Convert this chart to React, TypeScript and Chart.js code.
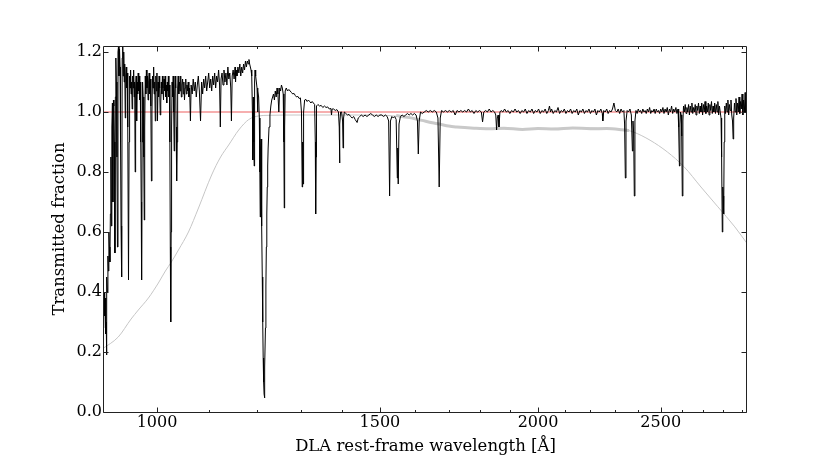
import React, { useEffect, useRef } from "react";
import { Chart, registerables } from "chart.js";

Chart.register(...registerables);

type Pt = [number, number];

// ---- axis data ----
const xRange: Pt = [908, 2925];
const yRange: Pt = [0, 1.22];
const xMajorTicks = [1000, 1500, 2000, 2500];
const xMinorTicks = [1100, 1200, 1300, 1400, 1600, 1700, 1800, 1900, 2100, 2200, 2300, 2400, 2600, 2700, 2800, 2900];
const yTicks = [0, 0.2, 0.4, 0.6, 0.8, 1.0, 1.2];
const xTitle = "DLA rest-frame wavelength [Å]";
const yTitle = "Transmitted fraction";

// ---- spectrum (wavelength, transmitted fraction) ----
const specForest: Pt[] = [
  [905.0,0.75],[905.5,0.55],[906.0,0.30],[906.7,0.42],[907.5,0.28],[908.3,0.40],[909.1,0.32],[910.0,0.38],[910.8,0.26],[911.6,0.30],
  [912.1,0.19],[912.8,0.45],[913.6,0.40],[914.5,0.52],[915.3,0.47],[916.1,0.60],[917.0,0.55],[917.8,0.50],[918.6,0.66],[919.5,0.85],
  [920.3,0.62],[921.1,0.95],[922.0,1.03],[922.8,0.70],[923.7,1.04],[924.5,1.02],[925.3,0.90],[926.2,0.53],[927.0,1.05],[927.8,1.18],
  [928.7,1.10],[929.6,0.85],[930.5,0.55],[931.4,1.20],[932.3,1.22],[933.1,1.12],[934.0,1.21],[934.9,1.15],[935.7,0.90],[936.6,0.62],
  [937.6,0.45],[938.6,1.18],[939.5,1.22],[940.3,1.12],[941.2,1.20],[942.0,1.10],[942.9,1.16],[943.8,0.98],[944.6,1.12],[945.5,1.15],
  [946.3,1.08],[947.2,1.13],[948.1,0.95],[949.4,0.44],[950.4,0.90],[951.3,1.12],[952.2,1.08],[953.0,1.14],[953.9,1.06],[954.8,1.10],
  [955.7,1.01],[956.6,1.12],[957.4,1.08],[958.3,1.14],[959.2,1.05],[960.1,1.10],[961.0,0.80],[961.8,1.08],[962.7,1.12],[963.6,0.97],
  [964.5,1.10],[965.4,1.06],[966.3,1.13],[967.2,1.07],[968.1,1.12],[969.0,1.04],[969.9,1.10],[970.8,0.90],[971.6,0.70],[972.3,0.44],
  [973.2,0.90],[974.0,1.10],[975.0,1.05],[976.2,0.85],[977.0,0.64],[977.8,0.95],[978.8,1.12],[979.8,1.06],[980.8,1.14],[981.8,1.08],
  [982.8,1.12],[983.8,1.04],[984.8,1.10],[985.8,1.13],[986.8,1.06],[987.8,1.11],[988.8,1.02],[989.8,0.77],[990.8,1.00],[991.8,1.12],
  [992.8,1.08],[993.8,1.15],[994.8,1.06],[995.8,1.10],[996.8,0.97],[997.8,1.12],[998.8,1.07],[999.8,1.13],[1000.8,0.97],[1001.8,1.10],
  [1002.8,1.05],[1003.8,1.12],[1004.8,1.08],[1005.8,0.99],[1006.8,1.03],[1007.8,1.10],[1008.8,1.06],[1009.8,1.12],[1010.8,1.08],[1011.8,1.04],
  [1012.8,1.11],[1013.8,1.07],[1014.8,1.12],[1015.8,1.05],[1016.8,1.09],[1017.8,1.03],[1018.8,1.10],[1019.8,1.07],[1020.8,1.12],[1021.8,1.05],
  [1022.8,1.09],[1023.6,0.90],[1024.4,0.55],[1025.2,0.30],[1026.0,0.60],[1026.8,0.95],[1027.8,1.10],[1028.8,1.05],[1029.8,1.12],[1030.8,1.00],
  [1031.7,0.87],[1032.6,1.06],[1033.6,1.12],[1034.6,1.08],[1035.4,0.95],[1036.3,0.77],[1037.2,0.90],[1038.2,1.08],[1039.2,1.12],[1040.4,1.06],
  [1041.6,1.10],[1042.8,1.07],[1044.0,1.12],[1045.2,1.05],[1046.4,1.09],[1047.6,1.11],[1048.8,1.06],[1050.0,1.10],[1051.2,1.04],[1052.4,1.08],
  [1053.6,1.11],[1054.8,1.06],[1056.0,1.09],[1057.2,1.07],[1058.4,1.10],[1059.6,1.05],
];

const specLya: Pt[] = [
  [1061.0,1.08],[1062.6,0.97],[1064.0,1.09],[1066.0,1.06],[1068.0,1.11],[1070.0,1.07],[1072.0,1.10],[1074.0,1.05],[1076.0,1.09],[1078.0,1.12],
  [1080.0,1.07],[1082.3,0.97],[1084.5,1.10],[1086.5,1.06],[1088.5,1.11],[1090.5,1.08],[1092.5,1.12],[1094.5,1.07],[1096.5,1.10],[1098.5,1.13],
  [1100.5,1.08],[1102.5,1.11],[1104.5,1.07],[1106.5,1.12],[1108.5,1.09],[1110.5,1.13],[1112.5,1.08],[1114.5,1.12],[1116.5,1.10],[1118.5,1.14],
  [1120.5,1.09],[1122.0,0.95],[1123.5,1.11],[1125.5,1.13],[1127.5,1.09],[1129.5,1.14],[1131.5,1.10],[1133.5,1.13],[1135.5,1.09],[1137.5,1.15],
  [1139.5,1.11],[1141.5,1.13],[1143.5,1.08],[1144.9,0.97],[1146.5,1.12],[1148.5,1.14],[1150.5,1.11],[1152.5,1.15],[1153.5,1.10],[1154.5,1.14],
  [1156.5,1.12],[1158.5,1.15],[1160.5,1.13],[1162.5,1.16],[1164.5,1.12],[1166.5,1.15],[1168.5,1.13],[1170.5,1.16],[1172.5,1.14],[1174.5,1.17],
  [1176.5,1.15],[1178.5,1.17],[1180.5,1.16],[1182.0,1.175],[1183.5,1.16],[1185.0,1.15],[1186.5,1.14],[1188.0,1.12],[1189.5,1.00],[1190.4,0.84],
  [1191.3,1.05],[1192.3,0.90],[1193.3,0.82],[1194.2,1.10],[1195.2,1.14],[1196.5,1.12],[1198.0,1.10],[1199.5,1.08],[1200.5,1.00],[1201.5,1.07],
  [1203.0,1.05],[1204.5,0.98],[1205.7,0.80],[1206.5,0.65],[1207.3,0.88],[1208.3,0.91],[1209.2,0.78],[1210.1,0.62],[1211.0,0.45],[1212.0,0.30],
  [1213.0,0.18],[1214.0,0.10],[1215.0,0.06],[1215.6,0.047],[1216.2,0.08],[1217.0,0.15],[1218.0,0.28],[1219.0,0.42],[1220.0,0.55],[1221.0,0.66],
  [1222.0,0.75],[1223.0,0.82],[1224.0,0.88],[1226.0,0.95],[1228.0,0.99],[1230.0,1.02],[1232.0,1.04],[1234.0,1.05],
];

const specRed1: Pt[] = [
  [1236,1.06],[1238,1.04],[1240,1.07],[1242,1.05],[1244,1.08],[1246,1.06],[1248,1.00],[1250,1.08],[1252,1.07],[1254,1.09],
  [1256,1.08],[1258,1.06],[1259.5,0.90],[1260.4,0.68],[1261.3,0.95],[1262.5,1.07],[1265,1.08],[1268,1.07],[1271,1.075],[1274,1.07],
  [1277,1.065],[1280,1.06],[1283,1.062],[1286,1.055],[1289,1.05],[1292,1.052],[1295,1.045],[1298,1.047],[1300.5,1.00],[1302.2,0.75],
  [1303.2,0.90],[1304.4,0.76],[1305.5,1.00],[1308,1.04],[1311,1.042],[1314,1.035],[1317,1.04],[1320,1.035],[1323,1.03],[1326,1.035],
  [1329,1.03],[1332,1.025],[1333.6,0.90],[1334.5,0.66],[1335.5,0.85],[1336.5,1.02],[1340,1.025],[1344,1.02],[1348,1.022],[1352,1.015],
  [1356,1.02],[1360,1.015],[1364,1.017],[1368,1.01],[1372,1.012],[1373.5,0.99],[1375,1.01],[1379,1.01],[1383,1.005],[1387,1.008],
  [1391,1.00],[1393,0.95],[1393.8,0.83],[1394.7,0.96],[1396.5,1.00],[1399,1.00],[1401.5,0.97],[1402.8,0.88],[1404,0.98],[1406,1.00],
  [1410,0.995],[1414,0.99],[1418,0.992],[1422,0.985],[1426,0.98],[1430,0.985],[1434,0.975],[1439,0.965],[1442,0.98],[1446,0.985],
  [1450,0.99],[1455,0.985],[1460,0.99],[1465,0.985],[1470,0.99],[1475,0.995],[1480,0.99],[1485,0.985],[1490,0.99],[1495,0.985],[1500,0.99],
];

const specRed2: Pt[] = [
  [1505,0.99],[1510,0.985],[1515,0.99],[1520,0.985],[1524,0.97],[1526.7,0.72],[1529,0.97],[1533,0.985],[1537,0.98],[1541,0.985],
  [1545,0.975],[1548.2,0.78],[1549.5,0.88],[1550.8,0.76],[1553,0.96],[1557,0.985],[1562,0.99],[1567,0.985],[1572,0.99],[1577,0.995],
  [1582,0.99],[1587,0.995],[1592,0.99],[1597,0.995],[1602,0.99],[1606,0.97],[1608.5,0.86],[1611,0.97],[1615,1.0],[1620,0.995],
  [1626,1.0],[1632,1.005],[1638,1.0],[1644,1.005],[1650,1.0],[1656,1.005],[1662,1.0],[1667,0.98],[1670.8,0.75],[1674,0.98],
  [1678,1.005],[1684,1.0],[1690,1.005],[1696,1.0],[1702,1.005],[1708,1.0],[1714,1.005],[1720,0.99],[1726,1.005],[1732,1.0],
  [1738,1.005],[1744,1.0],[1750,1.005],[1756,1.0],[1762,1.01],[1768,1.0],[1774,1.005],[1780,0.995],[1786,1.005],[1792,1.0],
  [1798,1.005],[1804,1.0],[1808,0.967],[1812,1.0],[1818,1.005],[1824,1.0],[1830,1.01],[1836,1.0],[1842,1.005],[1848,1.0],
  [1852,0.99],[1854.7,0.94],[1857,0.98],[1860,0.99],[1862.8,0.95],[1866,1.0],[1870,1.005],[1876,1.0],[1882,1.01],[1888,1.0],
  [1894,1.005],[1900,0.995],[1906,1.005],[1912,1.0],[1918,1.01],[1924,1.0],[1930,1.005],[1936,0.995],[1942,1.005],[1948,1.0],
  [1954,1.01],[1960,0.995],[1966,1.005],[1972,1.0],[1978,1.01],[1984,0.995],[1990,1.005],[1996,1.0],[2002,1.01],[2008,0.995],
  [2014,1.005],[2020,1.0],[2026,1.01],[2032,0.995],[2038,1.005],[2042,1.02],[2046,1.0],[2050,1.01],[2056,0.995],[2062,1.005],
  [2068,1.0],[2074,1.015],[2080,0.995],[2086,1.005],[2092,1.0],[2098,1.01],[2104,0.995],[2110,1.005],[2116,1.0],[2122,1.01],
  [2128,0.995],[2134,1.005],[2140,1.0],[2146,1.01],[2152,0.99],[2158,1.005],[2164,1.0],[2170,1.01],[2176,0.995],[2182,1.005],
  [2188,1.0],[2194,1.01],[2200,0.995],[2206,1.005],[2212,1.0],[2218,1.01],[2224,0.99],[2230,1.005],[2236,1.0],[2242,1.01],
  [2248,0.995],[2250,0.97],[2254,1.005],[2260,1.0],[2266,1.01],[2272,0.995],[2278,1.005],[2284,1.0],[2290,1.01],[2296,1.03],
];

const specRed3: Pt[] = [
  [2302,1.005],[2308,1.0],[2314,1.01],[2320,0.995],[2326,1.01],[2332,1.0],[2338,1.005],[2341,0.96],[2344.2,0.78],[2347,0.97],
  [2352,1.005],[2358,1.0],[2364,1.01],[2370,0.99],[2374.5,0.87],[2377,0.97],[2380,0.93],[2382.8,0.72],[2385.5,0.97],[2390,1.005],
  [2395,0.995],[2400,1.01],[2405,1.0],[2410,1.005],[2415,0.995],[2420,1.01],[2425,1.0],[2430,1.005],[2435,0.995],[2440,1.01],
  [2445,1.0],[2450,1.015],[2455,0.995],[2460,1.005],[2465,1.0],[2470,1.01],[2475,0.995],[2480,1.01],[2485,1.0],[2490,1.005],
  [2495,0.995],[2500,1.01],[2505,1.0],[2510,1.015],[2515,0.995],[2520,1.01],[2525,1.0],[2530,1.015],[2535,0.99],[2540,1.01],
  [2545,1.0],[2550,1.02],[2555,0.995],[2560,1.01],[2565,1.0],[2570,1.015],[2575,0.995],[2580,1.01],[2583,0.95],[2586.6,0.82],
  [2589,0.96],[2592,1.0],[2595,0.99],[2597.5,0.92],[2600.2,0.72],[2603,0.97],[2606,1.02],[2610,1.0],[2614,1.025],[2618,0.995],
  [2622,1.015],[2626,1.0],[2630,1.025],[2634,0.99],[2638,1.02],[2642,1.0],[2646,1.03],[2650,0.995],[2654,1.015],[2658,1.0],
  [2662,1.025],[2666,0.99],[2670,1.02],[2674,1.005],[2678,1.03],[2682,0.995],[2686,1.02],[2690,1.0],[2694,1.03],[2698,0.99],
  [2702,1.025],[2706,1.0],[2710,1.035],[2714,0.995],[2718,1.02],[2722,1.0],[2726,1.03],[2730,0.99],[2734,1.025],[2738,1.005],
  [2742,1.035],[2746,0.995],[2750,1.02],[2754,1.0],[2758,1.03],[2762,0.995],[2766,1.025],[2770,1.0],[2774,1.035],[2778,0.99],
  [2782,1.02],[2786,1.0],[2790,0.98],[2793,0.85],[2796.4,0.60],[2799,0.75],[2801,0.72],[2803.5,0.66],[2806,0.90],[2809,1.02],
  [2813,0.995],[2817,1.03],[2821,1.0],[2825,1.04],[2829,0.99],[2833,1.025],[2837,1.005],[2841,1.04],[2845,0.99],[2849,0.97],
  [2852.1,0.91],[2855,0.98],[2859,1.03],[2863,1.0],[2867,1.045],[2871,0.99],[2875,1.03],[2879,1.0],[2883,1.05],[2887,0.995],
  [2891,1.035],[2895,1.01],[2899,1.06],[2903,0.99],[2907,1.04],[2911,1.0],[2915,1.065],[2919,1.0],[2923,1.05],
];

// ---- smooth grey curve and thick grey band ----
const greyCurve: Pt[] = [
  [905,0.21],[931.8,0.25],[953.9,0.31],[966.5,0.34],[984.4,0.38],[1002.4,0.43],[1015.3,0.47],[1026.4,0.50],[1039.7,0.54],[1058.8,0.60],
  [1078.3,0.68],[1104.4,0.79],[1122.6,0.85],[1139.2,0.89],[1160.2,0.94],[1181.6,0.975],[1203.5,0.987],[1225.7,0.989],[1300,0.99],[1400,0.99],
  [1480,0.99],[1554,0.985],[1619,0.972],[1671,0.96],[1725,0.95],[1829,0.945],[1944,0.943],[2130,0.947],[2266,0.945],[2352,0.939],
  [2380,0.933],[2452,0.906],[2530,0.867],[2609,0.817],[2690,0.75],[2774,0.684],[2861,0.617],[2925,0.562],
];
const greyBand: Pt[] = [
  [1545,0.988],[1580,0.982],[1619,0.972],[1650,0.964],[1671,0.96],[1700,0.953],[1725,0.95],[1780,0.946],[1829,0.944],[1880,0.946],
  [1944,0.942],[2000,0.945],[2060,0.943],[2130,0.947],[2200,0.944],[2266,0.945],[2330,0.941],[2360,0.938],
];
const unityLine: Pt[] = [[908, 1], [2925, 1]];

const toXY = (arr: Pt[]) => arr.map(([x, y]) => ({ x, y }));

const FONT = "'DejaVu Serif', 'Liberation Serif', serif";
const FRAME = "#222";

const frameTicks = {
  id: "frameTicks",
  afterDatasetsDraw(chart: any) {
    const { ctx, chartArea: a, scales } = chart;
    const xs = scales.x;
    const ys = scales.y;
    const L = Math.round(a.left) - 0.5;
    const R = Math.round(a.right) - 0.5;
    const T = Math.round(a.top) + 0.5;
    const B = Math.round(a.bottom) + 0.5;
    ctx.save();
    ctx.strokeStyle = FRAME;
    ctx.lineWidth = 1;
    ctx.beginPath();
    ctx.rect(L, T, R - L, B - T);
    const xTick = (v: number, len: number) => {
      const p = Math.round(xs.getPixelForValue(v)) + 0.5;
      ctx.moveTo(p, B);
      ctx.lineTo(p, B - len);
      ctx.moveTo(p, T);
      ctx.lineTo(p, T + len);
    };
    xMajorTicks.forEach((v) => xTick(v, 5));
    xMinorTicks.forEach((v) => xTick(v, 2.5));
    yTicks.forEach((v) => {
      const p = Math.round(ys.getPixelForValue(v)) + 0.5;
      ctx.moveTo(L, p);
      ctx.lineTo(L + 5, p);
      ctx.moveTo(R, p);
      ctx.lineTo(R - 5, p);
    });
    ctx.stroke();
    ctx.restore();
  },
};

export default function App() {
  const ref = useRef<HTMLCanvasElement | null>(null);
  useEffect(() => {
    if (!ref.current) return;
    Chart.defaults.font.family = FONT;
    Chart.defaults.color = "#000";
    const chart = new Chart(ref.current, {
      type: "line",
      data: {
        datasets: [
          { label: "spectrum", data: toXY([...specForest, ...specLya, ...specRed1, ...specRed2, ...specRed3]), borderColor: "#000", borderWidth: 1, pointRadius: 0, tension: 0 },
          { label: "unity", data: toXY(unityLine), borderColor: "#f39595", borderWidth: 1.5, pointRadius: 0 },
          { label: "band", data: toXY(greyBand), borderColor: "#c9c9c9", borderWidth: 3, pointRadius: 0, cubicInterpolationMode: "monotone" },
          { label: "model", data: toXY(greyCurve), borderColor: "#c6c6c6", borderWidth: 1, pointRadius: 0, cubicInterpolationMode: "monotone" },
        ] as any,
      },
      options: {
        animation: false,
        responsive: false,
        events: [],
        layout: { padding: { left: 0, right: 83, top: 46, bottom: 0 } },
        plugins: { legend: { display: false }, tooltip: { enabled: false } },
        scales: {
          x: {
            type: "logarithmic",
            min: xRange[0],
            max: xRange[1],
            grid: { display: false, drawTicks: false },
            border: { display: false },
            afterBuildTicks: (s: any) => {
              s.ticks = [...xMajorTicks, ...xMinorTicks].sort((a, b) => a - b).map((v) => ({ value: v }));
            },
            afterFit: (s: any) => { s.height = 47; },
            ticks: {
              autoSkip: false,
              maxRotation: 0,
              minRotation: 0,
              padding: 1,
              font: { size: 16, family: FONT },
              color: "#000",
              callback: (v: any) => (xMajorTicks.includes(Number(v)) ? String(v) : ""),
            },
            title: { display: true, text: xTitle, font: { size: 16.5, family: FONT }, color: "#000", padding: { top: 0, bottom: 2 } },
          },
          y: {
            type: "linear",
            min: yRange[0],
            max: yRange[1],
            grid: { display: false, drawTicks: false },
            border: { display: false },
            afterBuildTicks: (s: any) => { s.ticks = yTicks.map((v) => ({ value: v })); },
            afterFit: (s: any) => { s.width = 104; },
            ticks: {
              padding: 2,
              font: { size: 16, family: FONT },
              color: "#000",
              callback: (v: any) => Number(v).toFixed(1),
            },
            title: { display: true, text: yTitle, font: { size: 16.5, family: FONT }, color: "#000", padding: { top: 50, bottom: 0 } },
          },
        },
      } as any,
      plugins: [frameTicks],
    });
    return () => chart.destroy();
  }, []);
  return (
    <div style={{ position: "fixed", left: 0, top: 0, width: 830, height: 459, background: "#fff" }}>
      <canvas ref={ref} width={830} height={459} style={{ display: "block", width: 830, height: 459 }} />
    </div>
  );
}
